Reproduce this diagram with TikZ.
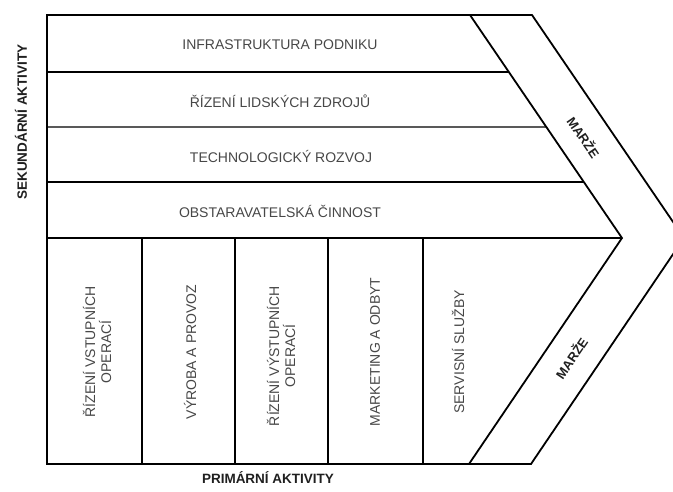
\documentclass[tikz,border=0pt]{standalone}
\usepackage{fontspec}
\setmainfont{Liberation Sans}
\usetikzlibrary{calc}
\tikzset{
  frame/.style={line width=1.8pt, draw=black},
  thin row/.style={line width=1.2pt, draw=black},
  lab/.style={font=\fontsize{14}{16}\selectfont, text=black!72, inner sep=0pt},
  collab/.style={lab, rotate=90, align=center},
  head/.style={font=\bfseries\fontsize{13.5}{15}\selectfont, text=black!88, inner sep=0pt},
  marze/.style={font=\bfseries\fontsize{13}{15}\selectfont, text=black!88, inner sep=0pt}
}
\begin{document}
\begin{tikzpicture}[x=1pt,y=-1pt,line join=miter]
\useasboundingbox (0,0) rectangle (673,491);
\clip (0,0) rectangle (673,491);
% main corners
\coordinate (TL) at (47,15);
\coordinate (BL) at (47,464);
\coordinate (IT) at (470,15);
\coordinate (IP) at (622,238);
\coordinate (IB) at (469,464);
\coordinate (OT) at (532,15);
\coordinate (OP) at (684,238);
\coordinate (OB) at (531,464);
% row ends on inner diagonal
\coordinate (R1L) at (47,72);  \coordinate (R1R) at ($(IT)!{57/223}!(IP)$);
\coordinate (R2L) at (47,127); \coordinate (R2R) at ($(IT)!{112/223}!(IP)$);
\coordinate (R3L) at (47,182); \coordinate (R3R) at ($(IT)!{167/223}!(IP)$);
\coordinate (R4L) at (47,238);
% column lines
\coordinate (C1T) at (142,238); \coordinate (C1B) at (142,464);
\coordinate (C2T) at (235,238); \coordinate (C2B) at (235,464);
\coordinate (C3T) at (328,238); \coordinate (C3B) at (328,464);
\coordinate (C4T) at (423,238); \coordinate (C4B) at (423,464);

\draw[frame] (TL) -- (OT) -- (OP) -- (OB) -- (BL) -- cycle;
\draw[frame] (IT) -- (IP) -- (IB);
\draw[frame] (R1L) -- (R1R);
\draw[thin row] (R2L) -- (R2R);
\draw[frame] (R3L) -- (R3R);
\draw[frame] (R4L) -- (IP);
\draw[frame] (C1T) -- (C1B);
\draw[frame] (C2T) -- (C2B);
\draw[frame] (C3T) -- (C3B);
\draw[frame] (C4T) -- (C4B);

% secondary activities
\node[lab] (infra) at (280,45) {INFRASTRUKTURA PODNIKU};
\node[lab] (hr) at (280,101) {ŘÍZENÍ LIDSKÝCH ZDROJŮ};
\node[lab] (tech) at (281,156) {TECHNOLOGICKÝ ROZVOJ};
\node[lab] (obst) at (280,211) {OBSTARAVATELSKÁ ČINNOST};

% primary activities
\node[collab] (in) at (97,352) {ŘÍZENÍ VSTUPNÍCH\\OPERACÍ};
\node[collab] (vyr) at (190,352) {VÝROBA A PROVOZ};
\node[collab] (out) at (281,356) {ŘÍZENÍ VÝSTUPNÍCH\\OPERACÍ};
\node[collab] (mkt) at (375,352) {MARKETING A ODBYT};
\node[collab] (serv) at (458,352) {SERVISNÍ SLUŽBY};

% margins
\node[marze, rotate=-55.7] (m1) at (584,137) {MARŽE};
\node[marze, rotate=55.8] (m2) at (571,358) {MARŽE};

% headings
\node[head, rotate=90] (sek) at (21,122) {SEKUNDÁRNÍ AKTIVITY};
\node[head] (prim) at (268,478) {PRIMÁRNÍ AKTIVITY};
\end{tikzpicture}
\end{document}
